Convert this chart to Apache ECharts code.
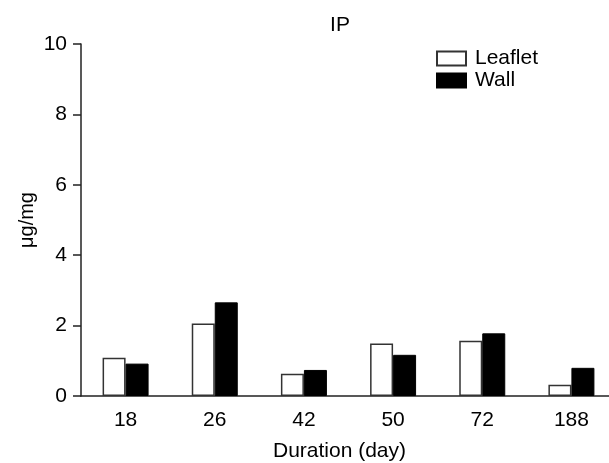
<!DOCTYPE html>
<html>
<head>
<meta charset="utf-8">
<script src="https://cdn.jsdelivr.net/npm/echarts@6/dist/echarts.min.js"></script>
<style>
  html, body { margin: 0; padding: 0; background: #fff; }
  #chart { width: 609px; height: 463px; }
</style>
</head>
<body>
<div id="chart"></div>
<script>
const categories = ["18", "26", "42", "50", "72", "188"];
const leaflet = [1.09, 2.06, 0.63, 1.49, 1.57, 0.32];
const wall = [0.92, 2.66, 0.74, 1.17, 1.78, 0.80];

const font = "Liberation Sans, Arial, sans-serif";
const chart = echarts.init(document.getElementById("chart"));

chart.setOption({
  animation: false,
  title: {
    text: "IP",
    left: 335, top: 10,
    textAlign: "center",
    textStyle: { fontFamily: font, fontSize: 21, fontWeight: "normal", color: "#000" }
  },
  legend: {
    left: 431, top: 43,
    orient: "vertical",
    icon: "rect",
    itemWidth: 29, itemHeight: 14, itemGap: 1,
    textStyle: { fontFamily: font, fontSize: 21, lineHeight: 21, color: "#000", padding: [0, 0, 0, 4] },
    data: ["Leaflet", "Wall"]
  },
  grid: { left: 81, right: -7, top: 44, bottom: 67, outerBoundsMode: "none", containLabel: false },
  xAxis: {
    type: "category",
    data: categories,
    name: "Duration (day)",
    nameLocation: "middle",
    nameGap: 45,
    nameTextStyle: { fontFamily: font, fontSize: 21, color: "#000", padding: [0, 18, 0, 0] },
    axisLine: { lineStyle: { color: "#222", width: 1.5 } },
    axisTick: { length: 8, lineStyle: { color: "#222", width: 1.5 } },
    axisLabel: { fontFamily: font, fontSize: 21, color: "#000", margin: 14 }
  },
  yAxis: {
    type: "value",
    min: 0, max: 10, interval: 2,
    name: "μg/mg",
    nameLocation: "middle",
    nameGap: 44,
    nameMoveOverlap: false,
    nameTextStyle: { fontFamily: font, fontSize: 20, color: "#000" },
    splitLine: { show: false },
    axisLine: { show: true, lineStyle: { color: "#222", width: 1.5 } },
    axisTick: { show: true, length: 8, lineStyle: { color: "#222", width: 1.5 } },
    axisLabel: { fontFamily: font, fontSize: 21, color: "#000", margin: 14 }
  },
  series: [
    {
      name: "Leaflet",
      type: "bar",
      data: leaflet,
      barWidth: 23,
      barGap: "0%",
      itemStyle: { color: "#fff", borderColor: "#333", borderWidth: 1.5 }
    },
    {
      name: "Wall",
      type: "bar",
      data: wall,
      barWidth: 23,
      barGap: "0%",
      itemStyle: { color: "#000", borderColor: "#000", borderWidth: 1 }
    }
  ]
});
</script>
</body>
</html>
